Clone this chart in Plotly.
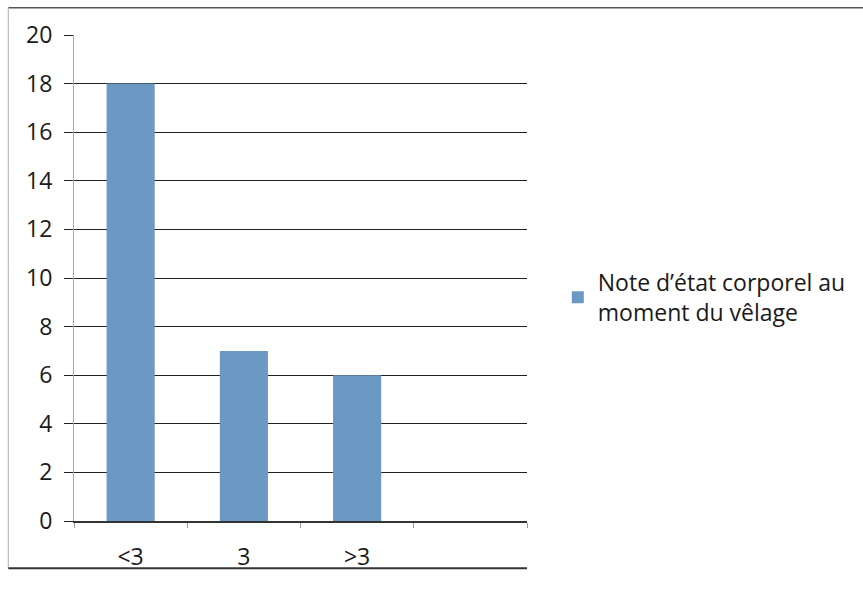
import plotly.graph_objects as go

categories = ["<3", "3", ">3", " "]
values = [18, 7, 6, None]
series_name = "Note d’état corporel au<br>moment du vêlage"
y_ticks = [0, 2, 4, 6, 8, 10, 12, 14, 16, 18, 20]

fig = go.Figure()
fig.add_trace(go.Bar(
    x=categories, y=values, name=series_name,
    marker=dict(color="#6c98c4", line=dict(width=0)),
    showlegend=True,
))

font_family = "Open Sans, Noto Sans, sans-serif"
fig.update_layout(
    width=863, height=591,
    margin=dict(l=74, r=334, t=35, b=70),
    paper_bgcolor="white", plot_bgcolor="white",
    bargap=0.575,
    font=dict(family=font_family, size=23, color="#1a1a1a"),
    legend=dict(x=1.068, y=0.46, xanchor="left", yanchor="middle",
                font=dict(size=23, color="#1a1a1a"), itemwidth=30,
                bgcolor="rgba(0,0,0,0)"),
    xaxis=dict(showgrid=False, showline=True, linecolor="#333333", linewidth=1.5,
               ticks="outside", tickson="boundaries", ticklen=5, tickcolor="#999999",
               ticklabelstandoff=15, tickfont=dict(size=23, family=font_family, color="#1a1a1a"),
               fixedrange=True),
    yaxis=dict(range=[0, 20], tickvals=y_ticks, showgrid=True, gridcolor="#222222",
               gridwidth=1.2, showline=True, linecolor="#aaaaaa", linewidth=1,
               ticks="outside", ticklen=9, tickcolor="#222222",
               tickfont=dict(size=23, family=font_family, color="#1a1a1a"),
               zeroline=False, ticklabelstandoff=7),
)

# chart border lines (scan frame)
fig.add_shape(type="line", xref="paper", yref="paper", x0=-0.145, x1=1.75, y0=1.056, y1=1.056,
              line=dict(color="#555555", width=1.5))
fig.add_shape(type="line", xref="paper", yref="paper", x0=-0.145, x1=-0.145, y0=-0.097, y1=1.056,
              line=dict(color="#bbbbbb", width=1.2))
fig.add_shape(type="line", xref="paper", yref="paper", x0=-0.145, x1=1.0, y0=-0.097, y1=-0.097,
              line=dict(color="#333333", width=2))

fig.write_html("out.html")
